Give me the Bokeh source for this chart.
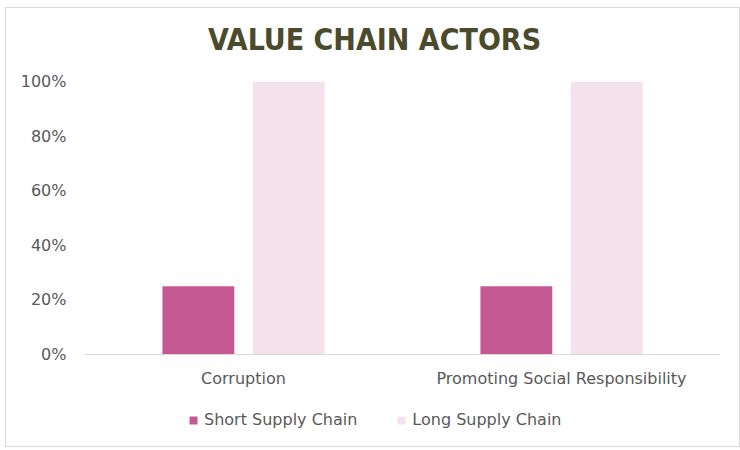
from bokeh.plotting import figure
from bokeh.models import FactorRange, Range1d, NumeralTickFormatter, Legend, LegendItem, ColumnDataSource, Label
from bokeh.layouts import column
from bokeh.transform import dodge
from bokeh.embed import file_html
from bokeh.resources import INLINE

title_text = "VALUE CHAIN ACTORS"
categories = ["Corruption", "Promoting Social Responsibility"]
short_chain = [0.25, 0.25]
long_chain = [1.0, 1.0]
series_names = ["Short Supply Chain", "Long Supply Chain"]
series_colors = ["#C55A93", "#F5E1EC"]
y_ticks = [0, 0.2, 0.4, 0.6, 0.8, 1.0]

W = 733

# ---- title strip ----
tf = figure(width=W, height=63, x_range=Range1d(0, 1), y_range=Range1d(0, 1),
            x_axis_type=None, y_axis_type=None, output_backend="svg", toolbar_location=None,
            min_border=0)
tf.outline_line_color = None
tf.grid.visible = False
tf.add_layout(Label(x=290, y=32, x_units="screen", y_units="screen", text=title_text,
                    text_align="center", text_baseline="middle",
                    text_font="'DejaVu Sans Condensed', 'Liberation Sans Narrow', sans-serif",
                    text_font_style="bold", text_font_size="30px", text_color="#4B4A2C"))

# ---- main chart ----
src = ColumnDataSource(dict(cat=categories, short=short_chain, long=long_chain))

p = figure(width=W, height=323, x_range=FactorRange(*categories), y_range=Range1d(0, 1.0),
           output_backend="svg", toolbar_location=None,
           min_border_left=78, min_border_right=19, min_border_top=10, min_border_bottom=40)

r1 = p.vbar(x=dodge("cat", -0.142, range=p.x_range), top="short", width=0.226, source=src,
            fill_color=series_colors[0], line_color=None)
r2 = p.vbar(x=dodge("cat", 0.142, range=p.x_range), top="long", width=0.226, source=src,
            fill_color=series_colors[1], line_color=None)

p.xgrid.visible = False
p.ygrid.visible = False
p.outline_line_color = None

p.yaxis.ticker = y_ticks
p.yaxis.formatter = NumeralTickFormatter(format="0%")
p.yaxis.axis_line_color = None
p.yaxis.major_tick_line_color = None
p.yaxis.minor_tick_line_color = None
p.yaxis.major_label_text_font = "DejaVu Sans"
p.yaxis.major_label_text_font_size = "16px"
p.yaxis.major_label_text_color = "#595959"
p.yaxis.major_label_standoff = 12

p.xaxis.axis_line_color = "#D9D9D9"
p.xaxis.major_tick_line_color = None
p.xaxis.minor_tick_line_color = None
p.xaxis.major_label_text_font = "DejaVu Sans"
p.xaxis.major_label_text_font_size = "16px"
p.xaxis.major_label_text_color = "#595959"
p.xaxis.major_label_standoff = 8

# ---- legend strip (its bars lie outside the visible range; only the legend shows) ----
lf = figure(width=W, height=52, x_range=FactorRange(*categories), y_range=Range1d(2, 3),
            x_axis_type=None, y_axis_type=None, output_backend="svg", toolbar_location=None,
            min_border=0)
lf.outline_line_color = None
lf.grid.visible = False
lr1 = lf.vbar(x="cat", top="short", width=0.2, source=src, fill_color=series_colors[0], line_color=None)
lr2 = lf.vbar(x="cat", top="long", width=0.2, source=src, fill_color=series_colors[1], line_color=None)
legend = Legend(items=[LegendItem(label=series_names[0], renderers=[lr1]),
                       LegendItem(label=series_names[1], renderers=[lr2])],
                orientation="horizontal", location=(104, 17),
                label_text_font="DejaVu Sans", label_text_font_size="16px",
                label_text_color="#595959", glyph_width=10, glyph_height=10,
                spacing=39, border_line_color=None, background_fill_alpha=0,
                margin=0, padding=8, label_standoff=6)
lf.add_layout(legend, "center")

layout = column(tf, p, lf, spacing=0)
layout.styles = {"border": "1px solid #D9D9D9", "margin-left": "5px", "margin-top": "7px"}

open("out.html", "w").write(file_html(layout, INLINE))
